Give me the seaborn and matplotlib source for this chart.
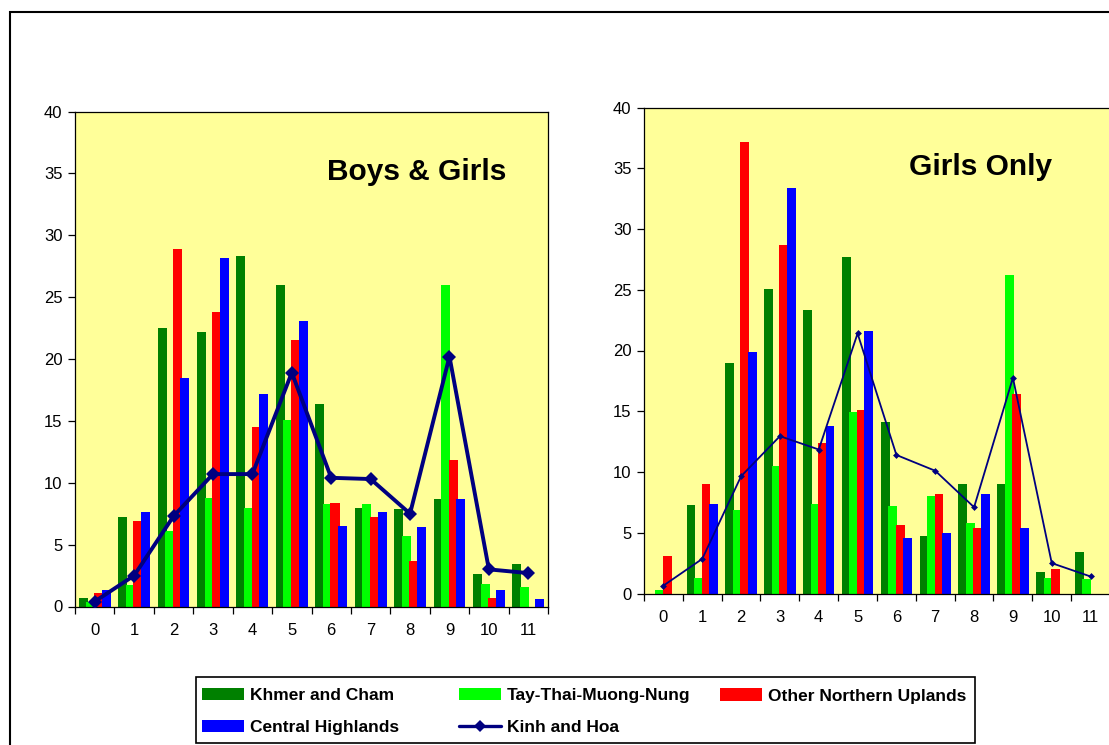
import numpy as np
import pandas as pd
import matplotlib.pyplot as plt
import seaborn as sns
from matplotlib.patches import Patch, Rectangle
from matplotlib.lines import Line2D

# age (years) on the x axis
ages = [0, 1, 2, 3, 4, 5, 6, 7, 8, 9, 10, 11]
groups = ['Khmer and Cham', 'Tay-Thai-Muong-Nung', 'Other Northern Uplands', 'Central Highlands']
line_name = 'Kinh and Hoa'

# Boys & Girls
khmer_bg = [0.7, 7.2, 22.5, 22.2, 28.3, 26.0, 16.4, 8.0, 7.9, 8.7, 2.6, 3.4]
tay_bg = [0.4, 1.7, 6.1, 8.8, 8.0, 15.1, 8.3, 8.3, 5.7, 26.0, 1.8, 1.6]
other_bg = [1.1, 6.9, 28.9, 23.8, 14.5, 21.5, 8.4, 7.2, 3.7, 11.8, 0.7, 0.0]
central_bg = [1.3, 7.6, 18.5, 28.2, 17.2, 23.1, 6.5, 7.6, 6.4, 8.7, 1.3, 0.6]
kinh_bg = [0.4, 2.5, 7.3, 10.7, 10.7, 18.9, 10.4, 10.3, 7.5, 20.2, 3.0, 2.7]

# Girls only
khmer_g = [0.0, 7.3, 19.0, 25.1, 23.3, 27.7, 14.1, 4.75, 9.0, 9.0, 1.8, 3.4]
tay_g = [0.3, 1.3, 6.85, 10.5, 7.4, 14.9, 7.2, 8.0, 5.8, 26.2, 1.3, 1.2]
other_g = [3.1, 9.0, 37.2, 28.7, 12.4, 15.1, 5.6, 8.2, 5.4, 16.4, 2.0, 0.0]
central_g = [0.0, 7.4, 19.9, 33.4, 13.8, 21.6, 4.6, 5.0, 8.15, 5.35, 0.0, 0.0]
kinh_g = [0.65, 2.85, 9.65, 12.95, 11.85, 21.4, 11.4, 10.1, 7.1, 17.75, 2.5, 1.4]

colors = ['#008000', '#00FF00', '#FF0000', '#0000FF']
navy = '#000080'
yellow = '#FFFF99'

sns.set_style('ticks')
plt.rcParams['font.family'] = ['Liberation Sans', 'DejaVu Sans']
plt.rcParams['text.color'] = 'black'
plt.rcParams['xtick.color'] = 'black'
plt.rcParams['ytick.color'] = 'black'
plt.rcParams['axes.edgecolor'] = 'black'

W, H = 1109, 745
fig = plt.figure(figsize=(W / 100, H / 100), dpi=100)

def px_axes(left, top, right, bottom):
    return fig.add_axes([left / W, (H - bottom) / H, (right - left) / W, (bottom - top) / H])

def draw_panel(ax, bars, kinh, title, lw, ms):
    df = pd.DataFrame({
        'age': ages * 4,
        'group': np.repeat(groups, len(ages)),
        'pct': np.concatenate(bars),
    })
    sns.barplot(data=df, x='age', y='pct', hue='group', hue_order=groups,
                palette=colors, width=0.772, saturation=1, linewidth=0,
                errorbar=None, legend=False, ax=ax)
    # excel style: bars a bit wider than their step, so they overlap
    for p in ax.patches:
        p.set_x(p.get_x() - 0.018)
        p.set_width(0.229)
    sns.lineplot(x=ages, y=kinh, ax=ax, color=navy, lw=lw, marker='D',
                 markersize=ms, markeredgewidth=0, zorder=5)
    ax.set_facecolor(yellow)
    ax.set_xlim(-0.5, 11.5)
    ax.set_ylim(0, 40)
    ax.set_yticks(range(0, 41, 5))
    ax.set_xticks(ages)
    ax.set_xticklabels([str(a) for a in ages])
    ax.set_xticks(np.arange(-0.5, 12, 1), minor=True)
    ax.tick_params(axis='x', which='major', length=0, pad=12, labelsize=12)
    ax.tick_params(axis='x', which='minor', length=5, width=0.9, direction='out')
    ax.tick_params(axis='y', length=5, width=0.9, pad=4, labelsize=12)
    ax.set_xlabel('')
    ax.set_ylabel('')
    for s in ax.spines.values():
        s.set_visible(True)
        s.set_linewidth(0.9)
        s.set_color('black')
    ax.text(0.722, 0.862, title, transform=ax.transAxes, ha='center', va='baseline',
            fontsize=21.5, fontweight='bold')

ax1 = px_axes(75, 111.5, 548, 606.5)
draw_panel(ax1, [khmer_bg, tay_bg, other_bg, central_bg], kinh_bg, 'Boys & Girls', 2.8, 7)

ax2 = px_axes(644, 107.5, 1110, 593.5)
draw_panel(ax2, [khmer_g, tay_g, other_g, central_g], kinh_g, 'Girls Only', 1.3, 3.5)

# outer chart frame (right and bottom edges fall outside the picture)
fig.add_artist(Rectangle((10 / W, -0.1), 1.2, (H - 12) / H + 0.1, transform=fig.transFigure,
                         fill=False, ec='black', lw=1.5))

# legend box
fig.add_artist(Rectangle((196 / W, (H - 743) / H), 779 / W, 66 / H, transform=fig.transFigure,
                         fill=False, ec='black', lw=1.2))

handles = [Patch(facecolor=c, edgecolor='none') for c in colors]
kinh_handle = Line2D([], [], color=navy, lw=2.4, marker='D', markersize=6, markeredgewidth=0)

leg_kw = dict(frameon=False, handlelength=2.4, handleheight=0.7,
              handletextpad=0.35, borderpad=0, borderaxespad=0, labelspacing=0.95,
              prop={'weight': 'bold', 'size': 12.5}, numpoints=1)

fig.legend([handles[0], handles[3]], [groups[0], groups[3]], loc='center left',
           bbox_to_anchor=(202 / W, (H - 711.5) / H), **leg_kw)
fig.legend([handles[1], kinh_handle], [groups[1], line_name], loc='center left',
           bbox_to_anchor=(459 / W, (H - 711.5) / H), **leg_kw)
fig.legend([handles[2]], [groups[2]], loc='center left',
           bbox_to_anchor=(720 / W, (H - 696) / H), **leg_kw)

fig.savefig('out.png', dpi=100)
